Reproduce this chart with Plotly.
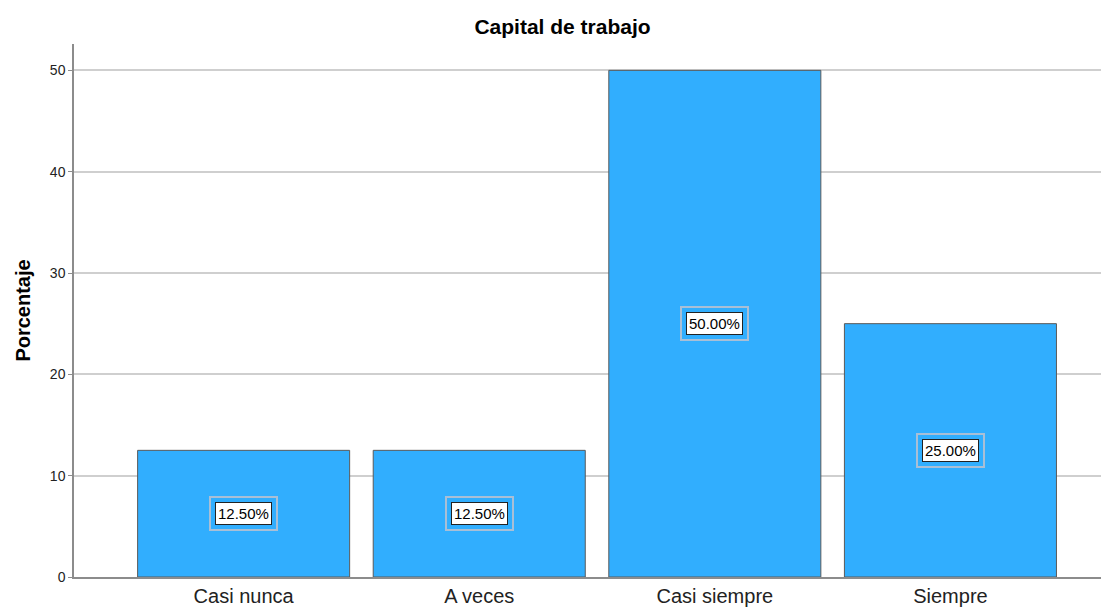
import plotly.graph_objects as go

# ── Data ─────────────────────────────────────────────────
categories = ["Casi nunca", "A veces", "Casi siempre", "Siempre"]
percentages = [12.5, 12.5, 50.0, 25.0]
bar_labels = ["12.50%", "12.50%", "50.00%", "25.00%"]
y_ticks = [0, 10, 20, 30, 40, 50]

BAR_CLR = "#31aefe"
FONT = "Liberation Sans, Arial, sans-serif"

fig = go.Figure(go.Bar(
    x=categories,
    y=percentages,
    marker=dict(color=BAR_CLR, line=dict(color="#5a5a5a", width=1)),
    width=0.9,
    hoverinfo="skip",
))

# value labels: outer soft frame + inner white box
for cat, val, lab in zip(categories, percentages, bar_labels):
    fig.add_annotation(
        x=cat, y=val / 2, text=lab, showarrow=False,
        font=dict(family=FONT, size=15, color="rgba(0,0,0,0)"),
        bgcolor="rgba(0,0,0,0)", bordercolor="#a9bfd6",
        borderwidth=2, borderpad=7,
    )
    fig.add_annotation(
        x=cat, y=val / 2, text=lab, showarrow=False,
        font=dict(family=FONT, size=15, color="black"),
        bgcolor="white", bordercolor="#222222",
        borderwidth=1, borderpad=2,
    )

# page body adds an 8px offset, so margins are trimmed to match
fig.update_layout(
    width=1109, height=610,
    paper_bgcolor="white", plot_bgcolor="white",
    font=dict(family=FONT, color="black"),
    margin=dict(l=66, r=4, t=36, b=41),
    showlegend=False,
    title=dict(
        text="<b>Capital de trabajo</b>", x=0.5, xanchor="center",
        y=0.969, yanchor="middle", font=dict(size=21, family=FONT),
    ),
    xaxis=dict(
        range=[-0.72, 3.69], showgrid=False, zeroline=False,
        showline=True, linecolor="#8c8c8c", linewidth=1.5,
        ticks="", tickfont=dict(size=20, color="#222"),
    ),
    yaxis=dict(
        range=[0, 52.6], tickvals=y_ticks, showgrid=True,
        gridcolor="#cfcfcf", gridwidth=1.5, zeroline=False,
        showline=True, linecolor="#8c8c8c", linewidth=1.5,
        ticks="outside", ticklen=4, tickcolor="#8c8c8c",
        tickfont=dict(size=14, color="#222"),
        title=dict(text="<b>Porcentaje</b>", font=dict(size=20), standoff=14),
    ),
)

fig.write_html("out.html")
